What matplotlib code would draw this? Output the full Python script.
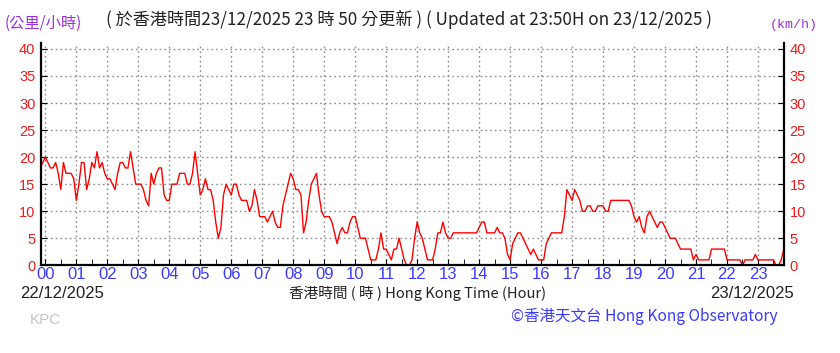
import numpy as np
import matplotlib
matplotlib.use('Agg')
import matplotlib.pyplot as plt
from matplotlib.ticker import MultipleLocator

# Vento médio (km/h) a cada 5 minutos, de 23:50 do dia anterior até 23:50
minutos = np.arange(-10, 1435, 5)
velocidade = [18, 19,
    20, 19, 18, 18, 19, 17, 14, 19, 17, 17, 17, 16,   # 00
    12, 15, 19, 19, 14, 16, 19, 18, 21, 18, 19, 17,   # 01
    16, 16, 15, 14, 17, 19, 19, 18, 18, 21, 18, 15,   # 02
    15, 15, 14, 12, 11, 17, 15, 17, 18, 18, 13, 12,   # 03
    12, 15, 15, 15, 17, 17, 17, 15, 15, 17, 21, 17,   # 04
    13, 14, 16, 14, 14, 12, 8, 5, 7, 13, 15, 14,      # 05
    13, 15, 15, 13, 12, 12, 12, 10, 11, 14, 12, 9,    # 06
    9, 9, 8, 9, 10, 8, 7, 7, 11, 13, 15, 17,          # 07
    16, 14, 14, 13, 6, 8, 12, 15, 16, 17, 13, 10,     # 08
    9, 9, 9, 8, 6, 4, 6, 7, 6, 6, 8, 9,               # 09
    9, 7, 5, 5, 5, 3, 1, 1, 1, 3, 6, 3,               # 10
    3, 2, 1, 3, 3, 5, 3, 1, 0, 0, 1, 5,               # 11
    8, 6, 5, 3, 1, 1, 1, 3, 6, 6, 8, 6,               # 12
    5, 5, 6, 6, 6, 6, 6, 6, 6, 6, 6, 6,               # 13
    7, 8, 8, 6, 6, 6, 6, 7, 6, 6, 5, 2,               # 14
    1, 4, 5, 6, 6, 5, 4, 3, 2, 3, 2, 1,               # 15
    1, 1, 4, 5, 6, 6, 6, 6, 6, 9, 14, 13,             # 16
    12, 14, 13, 12, 10, 10, 11, 11, 10, 10, 11, 11,   # 17
    11, 10, 10, 12, 12, 12, 12, 12, 12, 12, 12, 11,   # 18
    9, 8, 9, 7, 6, 9, 10, 9, 8, 7, 8, 8,              # 19
    7, 6, 5, 5, 5, 4, 3, 3, 3, 3, 3, 1,               # 20
    2, 1, 1, 1, 1, 1, 3, 3, 3, 3, 3, 3,               # 21
    1, 1, 1, 1, 1, 1, 0, 1, 1, 1, 1, 2,               # 22
    1, 1, 1, 1, 1, 1, 1, 0, 0, 1, 3]                  # 23

horas = list(range(24))
rotulos_horas = ['%02d' % h for h in horas]
ticks_vel = [0, 5, 10, 15, 20, 25, 30, 35, 40]

vermelho = '#ee1c1c'
azul = '#3b3bff'
roxo = '#9b30d9'
cjk = ['Noto Sans CJK TC', 'DejaVu Sans']


def main():
    fig = plt.figure(figsize=(8.4, 3.53), dpi=100)
    ax = fig.add_axes([41/840, 1 - 265.3/353, 743/840, 222.3/353])

    ax.plot(minutos/60, velocidade, color='#ff0000', lw=1.0)

    ax.set_xlim(-0.14, 23.84)
    ax.set_ylim(0, 41.1)
    ax.set_xticks(horas)
    ax.set_xticklabels(rotulos_horas, family='Liberation Sans', fontsize=12)
    ax.xaxis.set_minor_locator(MultipleLocator(0.5))
    ax.set_yticks(ticks_vel)
    ax.set_yticklabels(ticks_vel, family='Liberation Sans', fontsize=10.5)

    ax.grid(True, which='major', color='#8c8c8c', linestyle=(0, (1.2, 2.2)), lw=1)
    ax.spines['top'].set_visible(False)
    for s in ['left', 'right', 'bottom']:
        ax.spines[s].set_linewidth(1.6)
    ax.tick_params(axis='x', which='both', direction='in', length=4, pad=1,
                   labelcolor=azul)
    ax.tick_params(axis='y', direction='in', length=4, pad=4, right=True,
                   labelright=True, labelcolor=vermelho)

    # Textos
    fig.text(409/840, 1 - 20/353,
             '( 於香港時間23/12/2025 23 時 50 分更新 ) ( Updated at 23:50H on 23/12/2025 )',
             ha='center', va='center', fontsize=12.3, color='#222222', family=cjk)
    fig.text(5/840, 1 - 23/353, '(公里/小時)', ha='left', va='center',
             fontsize=11, color=roxo, family=cjk)
    fig.text(818/840, 1 - 25/353, '(km/h)', ha='right', va='center',
             fontsize=9.5, color=roxo, family='Liberation Mono')

    fig.text(20/840, 1 - 293/353, '22/12/2025', ha='left', va='center',
             fontsize=12, color='#222222', family='Liberation Sans')
    fig.text(418/840, 1 - 293/353, '香港時間 ( 時 ) Hong Kong Time (Hour)',
             ha='center', va='center', fontsize=10.5, color='#222222', family=cjk)
    fig.text(794/840, 1 - 293/353, '23/12/2025', ha='right', va='center',
             fontsize=12, color='#222222', family='Liberation Sans')
    fig.text(30/840, 1 - 320/353, 'KPC', ha='left', va='center',
             fontsize=11, color='#c4c4c4', family='Liberation Sans')
    fig.text(778/840, 1 - 316/353, '©香港天文台 Hong Kong Observatory',
             ha='right', va='center', fontsize=11.2, color=azul, family=cjk)

    plt.savefig('out.png', dpi=100)


if __name__ == "__main__":
    main()
